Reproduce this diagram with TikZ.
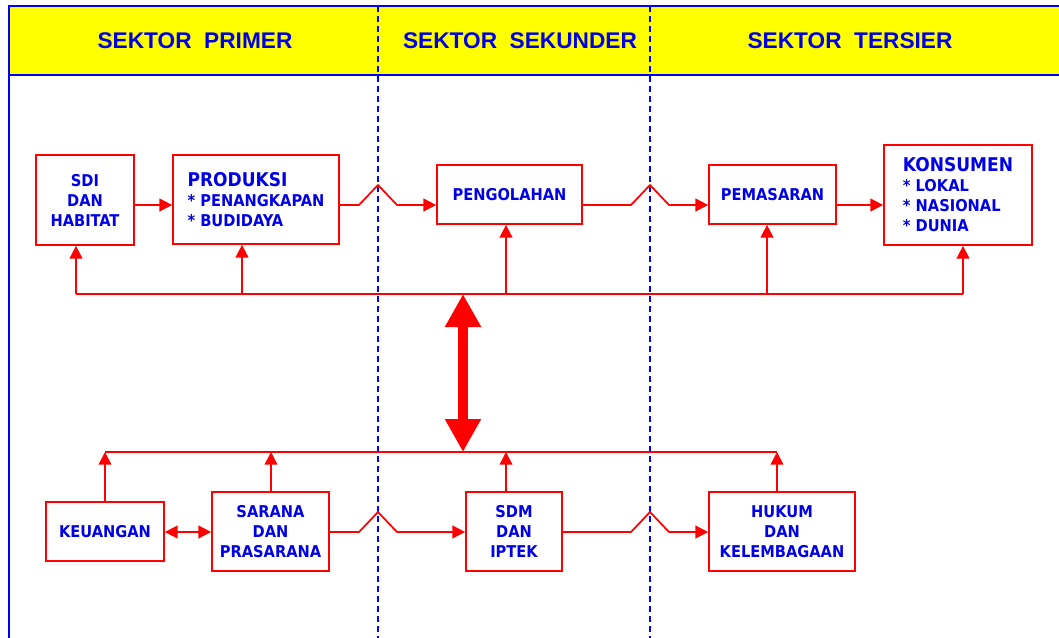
\documentclass[tikz,border=0pt]{standalone}
\usepackage{fontspec}
\usetikzlibrary{calc,arrows.meta}
\IfFontExistsTF{DejaVu Sans Condensed}
  {\newfontfamily\hurufkotak{DejaVu Sans Condensed}\newcommand\ukurankotak{\fontsize{12.2}{15}\selectfont}%
   \newcommand\ukuranbesar{\fontsize{14.2}{16}\selectfont}}
  {\newfontfamily\hurufkotak{DejaVu Sans}\newcommand\ukurankotak{\fontsize{11.2}{15}\selectfont}%
   \newcommand\ukuranbesar{\fontsize{13.2}{16}\selectfont}}
\newfontfamily\hurufjudul{Liberation Sans}
\definecolor{merah}{RGB}{255,0,0}
\definecolor{biru}{RGB}{0,0,230}
\definecolor{kuning}{RGB}{255,255,0}
\tikzset{
  kotak/.style={draw=merah, line width=1.3pt, fill=white, inner sep=0pt, align=center,
    text=biru, font=\hurufkotak\bfseries\ukurankotak},
  jalur/.style={draw=merah, line width=1.3pt},
  panah/.style={jalur, -{Triangle[length=9.5pt,width=9.5pt]}},
  panahdua/.style={jalur, {Triangle[length=9.5pt,width=9.5pt]}-{Triangle[length=9.5pt,width=9.5pt]}},
  panahbesar/.style={draw=merah, line width=7.5pt,
    {Triangle[length=24.75pt,width=25.5pt]}-{Triangle[length=24.75pt,width=25.5pt]}},
  judul/.style={text=biru, font=\hurufjudul\bfseries\fontsize{17}{20}\selectfont},
  batas/.style={draw=blue, line width=1.6pt, dash pattern=on 4.5pt off 3pt},
  bingkai/.style={draw=blue, line width=1.8pt},
}
\begin{document}
\begin{tikzpicture}[x=0.75pt, y=-0.75pt]
        % Batas gambar
        \useasboundingbox (0,0) rectangle (1059,637);
        \clip (0,0) rectangle (1059,637);
        % Kepala tabel dan bingkai
        \fill[kuning] (9,6) rectangle (1100,75);
        \draw[bingkai] (1100,6) -- (9,6) -- (9,700);
        \draw[bingkai] (9,75) -- (1100,75);
        % Garis pemisah antar sektor
        \coordinate (g1) at (378,6);
        \coordinate (g2) at (650,6);
        \draw[batas] (g1) -- (378,700);
        \draw[batas] (g2) -- (650,700);
        % Judul sektor
        \node[judul] (primer) at (195,41) {SEKTOR~~PRIMER};
        \node[judul] (sekunder) at (520,41) {SEKTOR~~SEKUNDER};
        \node[judul] (tersier) at (850,41) {SEKTOR~~TERSIER};
        % Kotak baris atas
        \node[kotak, minimum width=73.5pt, minimum height=67.5pt] (sdi) at (85,200) {SDI\\DAN\\HABITAT};
        \node[kotak, minimum width=124.5pt, minimum height=66.75pt, align=left] (produksi) at (256,199.5)
          {{\ukuranbesar PRODUKSI}\\* PENANGKAPAN\\* BUDIDAYA};
        \node[kotak, minimum width=108.75pt, minimum height=44.25pt] (pengolahan) at (509.5,194.5) {PENGOLAHAN};
        \node[kotak, minimum width=95.25pt, minimum height=44.25pt] (pemasaran) at (772.5,194.5) {PEMASARAN};
        \node[kotak, minimum width=111pt, minimum height=75pt, align=left] (konsumen) at (958,195)
          {{\ukuranbesar KONSUMEN}\\* LOKAL\\* NASIONAL\\* DUNIA};
        % Kotak baris bawah
        \node[kotak, minimum width=88.5pt, minimum height=44.25pt] (keuangan) at (105,531.5) {KEUANGAN};
        \node[kotak, minimum width=87.75pt, minimum height=59.25pt] (sarana) at (270.5,531.5) {SARANA\\DAN\\PRASARANA};
        \node[kotak, minimum width=72pt, minimum height=59.25pt] (sdm) at (514,531.5) {SDM\\DAN\\IPTEK};
        \node[kotak, minimum width=109.5pt, minimum height=59.25pt] (hukum) at (782,531.5) {HUKUM\\DAN\\KELEMBAGAAN};
        % Tinggi baris panah dan jalur bersama
        \coordinate (baris1) at (0,205);
        \coordinate (baris2) at (0,532);
        \coordinate (bus1) at (463,294);
        \coordinate (bus2) at (463,452);
        % Panah baris atas, dengan lompatan di garis pemisah
        \draw[panah] (sdi.east |- baris1) -- (produksi.west |- baris1);
        \draw[panah] (produksi.east |- baris1) -- ($(g1 |- baris1)+(-19,0)$) -- ($(g1 |- baris1)+(0,-20)$)
          -- ($(g1 |- baris1)+(19,0)$) -- (pengolahan.west |- baris1);
        \draw[panah] (pengolahan.east |- baris1) -- ($(g2 |- baris1)+(-19,0)$) -- ($(g2 |- baris1)+(0,-20)$)
          -- ($(g2 |- baris1)+(19,0)$) -- (pemasaran.west |- baris1);
        \draw[panah] (pemasaran.east |- baris1) -- (konsumen.west |- baris1);
        % Panah baris bawah
        \draw[panahdua] (keuangan.east |- baris2) -- (sarana.west |- baris2);
        \draw[panah] (sarana.east |- baris2) -- ($(g1 |- baris2)+(-19,0)$) -- ($(g1 |- baris2)+(0,-20)$)
          -- ($(g1 |- baris2)+(19,0)$) -- (sdm.west |- baris2);
        \draw[panah] (sdm.east |- baris2) -- ($(g2 |- baris2)+(-19,0)$) -- ($(g2 |- baris2)+(0,-20)$)
          -- ($(g2 |- baris2)+(19,0)$) -- (hukum.west |- baris2);
        % Jalur atas ke kotak baris atas
        \draw[jalur] ($(sdi.south |- bus1)+(-9,0)$) -- ($(konsumen.south |- bus1)+(5,0)$);
        \foreach \n/\d in {sdi/-9, produksi/-14, pengolahan/-3.5, pemasaran/-5.5, konsumen/5}
          \draw[panah] ($(\n.south |- bus1)+(\d,0)$) -- ($(\n.south)+(\d,0)$);
        % Kotak baris bawah ke jalur bawah
        \draw[jalur] (keuangan.north |- bus2) -- ($(hukum.north |- bus2)+(-5,0)$);
        \foreach \n/\d in {keuangan/0, sarana/0.5, sdm/-8, hukum/-5}
          \draw[panah] ($(\n.north)+(\d,0)$) -- ($(\n.north |- bus2)+(\d,0)$);
        % Panah besar di antara kedua jalur
        \draw[panahbesar] (bus1) -- (bus2);
    \end{tikzpicture}
\end{document}
